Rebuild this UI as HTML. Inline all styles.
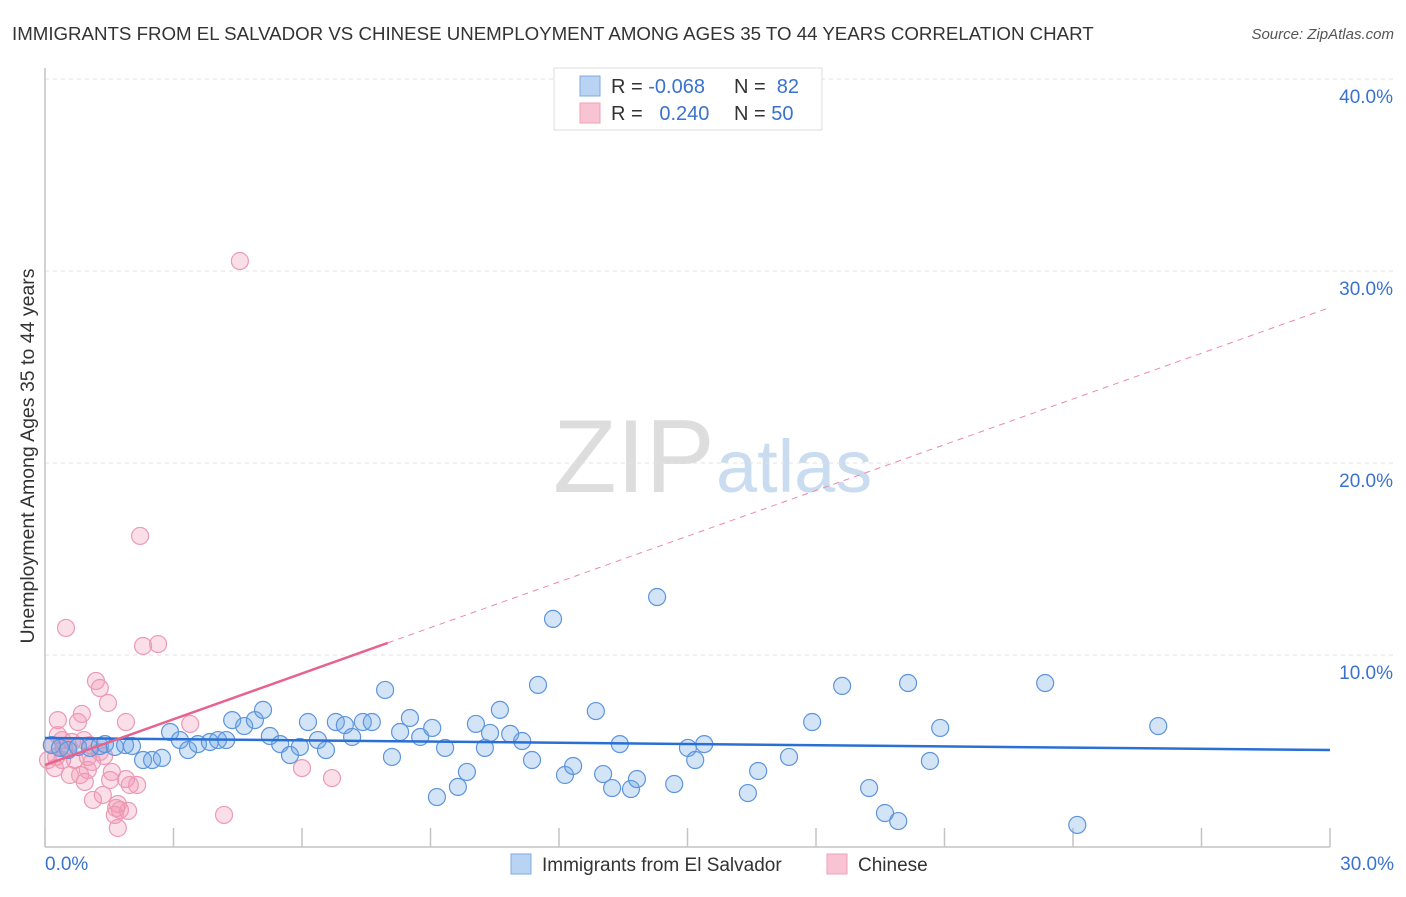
<!DOCTYPE html>
<html><head><meta charset="utf-8"><style>
body{margin:0;background:#fff;font-family:"Liberation Sans",sans-serif;}
svg text{font-family:"Liberation Sans",sans-serif;}
</style></head><body>
<svg id="chart" width="1406" height="892">
<text x="12" y="40" font-size="18.7" fill="#333">IMMIGRANTS FROM EL SALVADOR VS CHINESE UNEMPLOYMENT AMONG AGES 35 TO 44 YEARS CORRELATION CHART</text>
<text x="1394" y="39" font-size="15" fill="#555" font-style="italic" text-anchor="end">Source: ZipAtlas.com</text>
<g>
<text x="553" y="492" font-size="104" font-family="Liberation Serif,serif" fill="#ddd">ZIP</text>
<text x="716" y="492" font-size="74" fill="#c9dcf0">atlas</text>
</g>
<g id="grid"></g>
<g id="axes"></g>
<g id="pts"></g>
<g id="trends"></g>
<g>
<rect x="554" y="68" width="268" height="62" fill="#fff" stroke="#ddd"/>
<rect x="580" y="76" width="20" height="20" fill="#b9d3f3" stroke="#7fa9e0"/>
<rect x="580" y="103" width="20" height="20" fill="#f8c3d3" stroke="#efa0b8"/>
<text x="611" y="93" font-size="20" fill="#333">R = <tspan fill="#3a72d0">-0.068</tspan></text>
<text x="734" y="93" font-size="20" fill="#333">N = <tspan fill="#3a72d0">&#160;82</tspan></text>
<text x="611" y="120" font-size="20" fill="#333">R = <tspan fill="#3a72d0">&#160;&#160;0.240</tspan></text>
<text x="734" y="120" font-size="20" fill="#333">N = <tspan fill="#3a72d0">50</tspan></text>
</g>
<g>
<rect x="511" y="854" width="20" height="20" fill="#b9d3f3" stroke="#7fa9e0"/>
<text x="542" y="871" font-size="19" fill="#333">Immigrants from El Salvador</text>
<rect x="827" y="854" width="20" height="20" fill="#f8c3d3" stroke="#efa0b8"/>
<text x="858" y="871" font-size="19" fill="#333">Chinese</text>
</g>
<text transform="translate(34,456) rotate(-90)" font-size="19.5" fill="#333" text-anchor="middle">Unemployment Among Ages 35 to 44 years</text>
</svg>
<script>
const blueX=[0.16,0.35,0.54,0.77,1.05,1.28,1.40,1.63,1.87,2.03,2.29,2.50,2.73,2.92,3.15,3.34,3.57,3.85,4.04,4.23,4.37,4.65,4.90,5.09,5.25,5.49,5.72,5.95,6.14,6.37,6.56,6.79,7.00,7.17,7.42,7.63,7.94,8.10,8.29,8.52,8.76,9.04,9.34,9.15,9.64,9.85,10.06,10.27,10.39,10.62,10.86,11.14,11.37,11.51,11.86,12.14,12.33,12.86,13.03,13.24,13.42,13.68,13.82,14.29,14.69,15.01,15.18,15.39,16.41,16.65,17.37,17.91,18.61,19.24,19.61,19.92,20.15,20.66,20.90,23.35,24.10,25.99];
const blueY=[5.31,5.16,5.05,5.21,5.16,5.26,5.36,5.21,5.31,5.26,4.53,4.53,4.64,5.99,5.57,5.05,5.36,5.47,5.57,5.57,6.61,6.30,6.61,7.14,5.78,5.36,4.79,5.21,6.51,5.57,5.05,6.51,6.35,5.73,6.51,6.51,8.18,4.69,5.99,6.72,5.73,6.20,5.16,2.60,3.13,3.91,6.41,5.16,5.94,7.14,5.89,5.52,4.53,8.44,11.88,3.75,4.22,7.08,3.80,3.07,5.36,3.02,3.54,13.02,3.28,5.16,4.53,5.36,2.81,3.96,4.69,6.51,8.39,3.07,1.77,1.35,8.54,4.48,6.20,8.54,1.15,6.30];
const pinkX=[0.16,0.23,0.30,0.40,0.49,0.54,0.63,0.77,0.86,0.93,1.00,1.05,1.19,1.28,1.38,1.47,1.52,1.56,1.66,1.70,1.75,1.89,1.89,1.98,2.15,2.22,2.29,2.64,3.39,4.18,4.55,6.00,6.70,0.40,0.58,0.82,1.12,1.35,1.63,1.70,1.94,0.07,0.26,0.70,1.00,0.44,0.30,1.10,0.91,1.28];
const pinkY=[5.31,4.11,6.61,4.53,11.41,5.16,5.47,6.51,6.93,3.39,4.69,5.31,8.65,8.28,4.74,7.50,3.49,3.91,2.03,2.24,1.93,3.54,6.51,3.23,3.23,16.20,10.47,10.57,6.41,1.67,30.52,4.11,3.59,5.57,3.75,3.75,2.45,2.71,1.67,0.99,1.88,4.53,4.69,4.53,4.01,5.16,5.83,4.43,5.57,4.95];
const blueTrendX=[0,30], blueTrendY=[5.68,5.05];
const pinkTrendX=[0,8.0,30], pinkTrendY=[4.27,10.63,28.1];
const yTicks=[10,20,30,40], yTickLabels=["10.0%","20.0%","30.0%","40.0%"];
const xTicks=[0,3,6,9,12,15,18,21,24,27,30];
const xLabels=[[0,"0.0%"],[30,"30.0%"]];

const NS="http://www.w3.org/2000/svg";
const sx=v=>45+v*(1285/30), sy=v=>847-v*19.2;
function mk(parent,tag,attrs){const e=document.createElementNS(NS,tag);for(const k in attrs)e.setAttribute(k,attrs[k]);document.getElementById(parent).appendChild(e);return e;}
yTicks.forEach((t,i)=>{
  let l=mk('grid','line',{x1:45,x2:1394,y1:sy(t),y2:sy(t),stroke:'#e2e2e2','stroke-dasharray':'4,4'});
  
  
  let tx=mk('grid','text',{x:1393,y:sy(t)+24,'font-size':19,fill:'#3a72d0','text-anchor':'end'});tx.textContent=yTickLabels[i];
  
  
});
let g1=mk('grid','line',{x1:45,x2:1394,y1:79,y2:79,stroke:'#e2e2e2','stroke-dasharray':'4,4'});
let ax=mk('axes','line',{x1:45,x2:45,y1:68,y2:847,stroke:'#c4c4c4','stroke-width':1.5});


let bx=mk('axes','line',{x1:45,x2:1330,y1:847,y2:847,stroke:'#c4c4c4','stroke-width':1.5});


xTicks.forEach(t=>{
  let l=mk('axes','line',{x1:sx(t),x2:sx(t),y1:828,y2:847,stroke:'#c4c4c4','stroke-width':1.5});
  
  
});
xLabels.forEach(([v,s],i)=>{
  let tx=mk('axes','text',{x:i==0?45:1394,y:870,'font-size':19,fill:'#3a72d0','text-anchor':i==0?'start':'end'});tx.textContent=s;
  
  
});
pinkX.forEach((x,i)=>{
  let c=mk('pts','circle',{cx:sx(x),cy:sy(pinkY[i]),r:8.5,fill:'rgba(242,150,180,0.3)',stroke:'#ec9ab4','stroke-width':1.2});
  
  
});
blueX.forEach((x,i)=>{
  let c=mk('pts','circle',{cx:sx(x),cy:sy(blueY[i]),r:8.5,fill:'rgba(110,165,230,0.3)',stroke:'#5d95dc','stroke-width':1.2});
  
  
});
let bt=mk('trends','line',{x1:sx(blueTrendX[0]),y1:sy(blueTrendY[0]),x2:sx(blueTrendX[1]),y2:sy(blueTrendY[1]),stroke:'#2a6fd4','stroke-width':2.5});


let pt=mk('trends','line',{x1:sx(pinkTrendX[0]),y1:sy(pinkTrendY[0]),x2:sx(pinkTrendX[1]),y2:sy(pinkTrendY[1]),stroke:'#e8628e','stroke-width':2.5});


let pd=mk('trends','line',{x1:sx(pinkTrendX[1]),y1:sy(pinkTrendY[1]),x2:sx(pinkTrendX[2]),y2:sy(pinkTrendY[2]),stroke:'#ec8aa8','stroke-width':1,'stroke-dasharray':'6,5'});


</script>
</body></html>
